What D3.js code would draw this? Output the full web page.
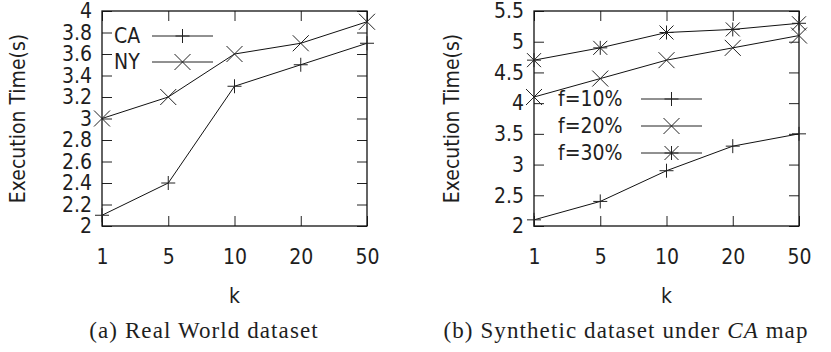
<!DOCTYPE html>
<html>
<head>
<meta charset="utf-8">
<script src="https://cdn.jsdelivr.net/npm/d3@7"></script>
<style>
  body { margin: 0; background: #fff; }
  svg text { fill: #1e1e1e; }
</style>
</head>
<body>
<div id="chart"></div>
<script>
const K_VALUES = ['1', '5', '10', '20', '50'];

// (a) real world
const CA_TIME = [2.1, 2.4, 3.3, 3.5, 3.7];
const NY_TIME = [3.0, 3.2, 3.6, 3.7, 3.9];
const Y_TICKS_A = [2, 2.2, 2.4, 2.6, 2.8, 3, 3.2, 3.4, 3.6, 3.8, 4];

// (b) synthetic, CA map
const F10_TIME = [2.1, 2.4, 2.9, 3.3, 3.5];
const F20_TIME = [4.1, 4.4, 4.7, 4.9, 5.1];
const F30_TIME = [4.7, 4.9, 5.15, 5.2, 5.3];
const Y_TICKS_B = [2, 2.5, 3, 3.5, 4, 4.5, 5, 5.5];

const SANS = '"DejaVu Sans Condensed", "DejaVu Sans", sans-serif';
const SERIF = '"Liberation Serif", "DejaVu Serif", serif';
const FS = '21px';

const svg = d3.select('#chart').append('svg')
  .attr('width', 831).attr('height', 352);

// marker shapes (gnuplot style)
function drawMarker(g, type, x, y) {
  const p = 7, c = 8;
  if (type === 'plus' || type === 'star') {
    g.append('line').attr('x1', x - p).attr('x2', x + p).attr('y1', y).attr('y2', y);
    g.append('line').attr('x1', x).attr('x2', x).attr('y1', y - p).attr('y2', y + p);
  }
  if (type === 'cross' || type === 'star') {
    const h = type === 'star' ? 7 : c;
    g.append('line').attr('x1', x - h).attr('x2', x + h).attr('y1', y - h).attr('y2', y + h);
    g.append('line').attr('x1', x - h).attr('x2', x + h).attr('y1', y + h).attr('y2', y - h);
  }
}

function panel(opts) {
  const { left, right, top, bottom, yDomain, yTicks, series, legend, caption } = opts;

  const x = d3.scalePoint().domain(K_VALUES).range([left, right]).padding(0);
  const y = d3.scaleLinear().domain(yDomain).range([bottom, top]);
  const fmt = d => String(+d.toFixed(2));

  const g = svg.append('g');

  const styleAxis = sel => {
    sel.select('.domain').remove();
    sel.selectAll('line').attr('stroke', '#222').attr('stroke-width', 1);
    sel.selectAll('text').attr('fill', '#1e1e1e')
      .style('font-family', SANS).style('font-size', FS);
  };

  g.append('g').attr('transform', `translate(${left},0)`)
    .call(d3.axisLeft(y).tickValues(yTicks).tickFormat(fmt).tickSizeInner(-10).tickSizeOuter(0).tickPadding(10))
    .call(styleAxis);
  g.append('g').attr('transform', `translate(${right},0)`)
    .call(d3.axisRight(y).tickValues(yTicks).tickFormat('').tickSizeInner(-10).tickSizeOuter(0))
    .call(styleAxis);
  g.append('g').attr('transform', `translate(0,${bottom})`)
    .call(d3.axisBottom(x).tickSizeInner(-10).tickSizeOuter(0).tickPadding(23))
    .call(styleAxis);
  g.append('g').attr('transform', `translate(0,${top})`)
    .call(d3.axisTop(x).tickFormat('').tickSizeInner(-10).tickSizeOuter(0))
    .call(styleAxis);

  g.append('rect')
    .attr('x', left).attr('y', top)
    .attr('width', right - left).attr('height', bottom - top)
    .attr('fill', 'none').attr('stroke', '#111').attr('stroke-width', 1.3);

  const line = d3.line().x((d, i) => x(K_VALUES[i])).y(d => y(d));

  series.forEach(s => {
    g.append('path').datum(s.values)
      .attr('d', line).attr('fill', 'none')
      .attr('stroke', '#111').attr('stroke-width', 1);
    const mg = g.append('g').attr('stroke', '#222').attr('stroke-width', 1);
    s.values.forEach((v, i) => drawMarker(mg, s.marker, x(K_VALUES[i]), y(v)));
  });

  // legend
  series.forEach((s, i) => {
    const ly = legend.y + i * legend.dy;
    g.append('text')
      .attr('x', legend.textX).attr('y', ly).attr('dy', '0.35em')
      .style('font-family', SANS).style('font-size', FS)
      .text(s.name);
    g.append('line')
      .attr('x1', legend.lineX1).attr('x2', legend.lineX2)
      .attr('y1', ly).attr('y2', ly)
      .attr('stroke', '#222').attr('stroke-width', 1);
    const mg = g.append('g').attr('stroke', '#222').attr('stroke-width', 1);
    drawMarker(mg, s.marker, (legend.lineX1 + legend.lineX2) / 2, ly);
  });

  // axis titles
  const midY = (top + bottom) / 2;
  g.append('text')
    .attr('transform', `translate(${opts.yTitleX},${midY}) rotate(-90)`)
    .attr('text-anchor', 'middle').attr('dy', '0.35em')
    .style('font-family', SANS).style('font-size', FS)
    .text('Execution Time(s)');
  g.append('text')
    .attr('x', (left + right) / 2).attr('y', 303)
    .attr('text-anchor', 'middle')
    .style('font-family', SANS).style('font-size', FS)
    .text('k');

  // caption
  const cap = g.append('text')
    .attr('x', caption.x).attr('y', 338)
    .attr('text-anchor', 'middle')
    .style('font-family', SERIF).style('font-size', '23px')
    .style('letter-spacing', '1.1px');
  caption.parts.forEach(p => {
    cap.append('tspan').style('font-style', p.italic ? 'italic' : 'normal').text(p.text);
  });
}

panel({
  left: 102, right: 367, top: 11, bottom: 226,
  yDomain: [2, 4], yTicks: Y_TICKS_A, yTitleX: 18,
  series: [
    { name: 'CA', values: CA_TIME, marker: 'plus' },
    { name: 'NY', values: NY_TIME, marker: 'cross' }
  ],
  legend: { textX: 114, y: 36, dy: 26, lineX1: 152, lineX2: 213 },
  caption: { x: 204, parts: [{ text: '(a) Real World dataset' }] }
});

panel({
  left: 534, right: 799, top: 11, bottom: 226,
  yDomain: [2, 5.5], yTicks: Y_TICKS_B, yTitleX: 452,
  series: [
    { name: 'f=10%', values: F10_TIME, marker: 'plus' },
    { name: 'f=20%', values: F20_TIME, marker: 'cross' },
    { name: 'f=30%', values: F30_TIME, marker: 'star' }
  ],
  legend: { textX: 558, y: 99, dy: 27, lineX1: 641, lineX2: 702 },
  caption: { x: 626, parts: [
    { text: '(b) Synthetic dataset under ' },
    { text: 'CA', italic: true },
    { text: ' map' }
  ] }
});
</script>
</body>
</html>
